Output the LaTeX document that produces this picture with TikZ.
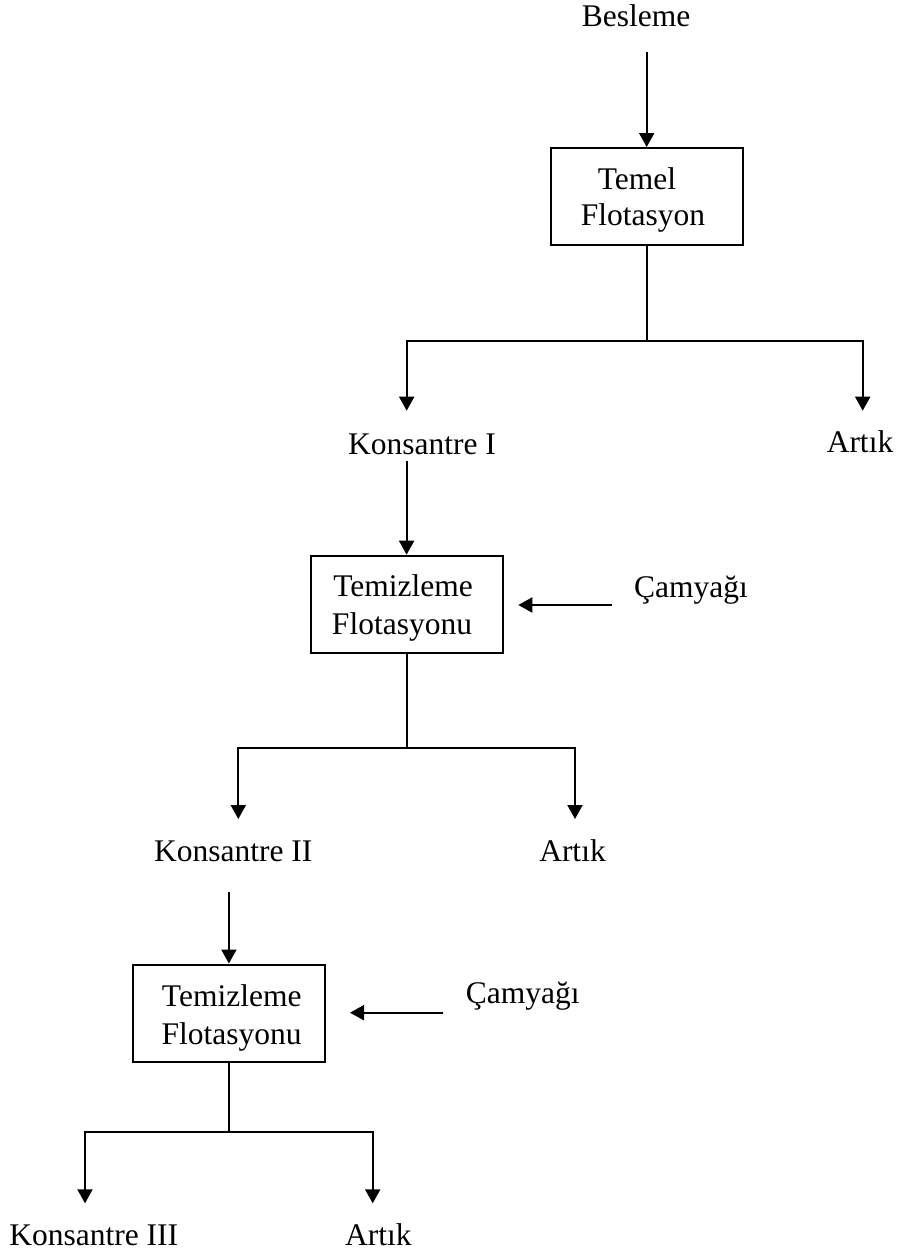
\documentclass[tikz,border=0pt]{standalone}
\usepackage{fontspec}
\setmainfont{Liberation Serif}
\usetikzlibrary{arrows.meta}
\begin{document}
\begin{tikzpicture}[x=1pt,y=-1pt,
  box/.style={draw, line width=2pt, minimum width=192pt, minimum height=97pt, inner sep=0pt},
  txt/.style={font=\fontsize{31.5}{36}\selectfont, inner sep=0pt, anchor=base},
  ln/.style={line width=2pt},
  arr/.style={line width=2pt, -{Triangle[width=15pt,length=14pt]}}]
\useasboundingbox (0,0) rectangle (899,1256);
% texts
\node[txt] (bes) at (636,26.7) {Besleme};
\node[box] (b1) at (646.7,196.5) {};
\node[txt] (t1a) at (637,189) {Temel};
\node[txt] (t1b) at (643,225) {Flotasyon};
\node[txt] (k1) at (422,454) {Konsantre I};
\node[txt] (a1) at (860,452.7) {Artık};
\node[box] (b2) at (406.6,604.2) {};
\node[txt] (t2a) at (403,596.7) {Temizleme};
\node[txt] (t2b) at (402,634) {Flotasyonu};
\node[txt] (c1) at (691,597) {Çamyağı};
\node[txt] (k2) at (233.3,861.7) {Konsantre II};
\node[txt] (a2) at (572.5,861.7) {Artık};
\node[box] (b3) at (228.9,1013) {};
\node[txt] (t3a) at (231.7,1006.7) {Temizleme};
\node[txt] (t3b) at (231.7,1044) {Flotasyonu};
\node[txt] (c2) at (522.7,1003.3) {Çamyağı};
\node[txt] (k3) at (93.8,1245) {Konsantre III};
\node[txt] (a3) at (378.3,1245) {Artık};
% coordinates
\coordinate (besT) at (646.7,52);
\coordinate (j1) at (646.7,340.7);
\coordinate (k1in) at (406.7,410.7);
\coordinate (a1in) at (862.7,410.7);
\coordinate (k1out) at (406.6,460.7);
\coordinate (c1out) at (612.3,605);
\coordinate (b2in) at (518.3,605);
\coordinate (j2) at (406.6,748.3);
\coordinate (k2in) at (238.3,819);
\coordinate (a2in) at (575,819);
\coordinate (k2out) at (228.9,892.3);
\coordinate (c2out) at (443.3,1012.7);
\coordinate (b3in) at (350,1012.7);
\coordinate (j3) at (228.9,1132.3);
\coordinate (k3in) at (85,1203.3);
\coordinate (a3in) at (372.7,1203.3);
% connectors
\draw[arr] (besT) -- (b1.north);
\draw[ln] (b1.south) -- (j1);
\draw[arr] (j1) -| (k1in);
\draw[arr] (j1) -| (a1in);
\draw[arr] (k1out) -- (b2.north);
\draw[arr] (c1out) -- (b2in);
\draw[ln] (b2.south) -- (j2);
\draw[arr] (j2) -| (k2in);
\draw[arr] (j2) -| (a2in);
\draw[arr] (k2out) -- (b3.north);
\draw[arr] (c2out) -- (b3in);
\draw[ln] (b3.south) -- (j3);
\draw[arr] (j3) -| (k3in);
\draw[arr] (j3) -| (a3in);
\end{tikzpicture}
\end{document}
